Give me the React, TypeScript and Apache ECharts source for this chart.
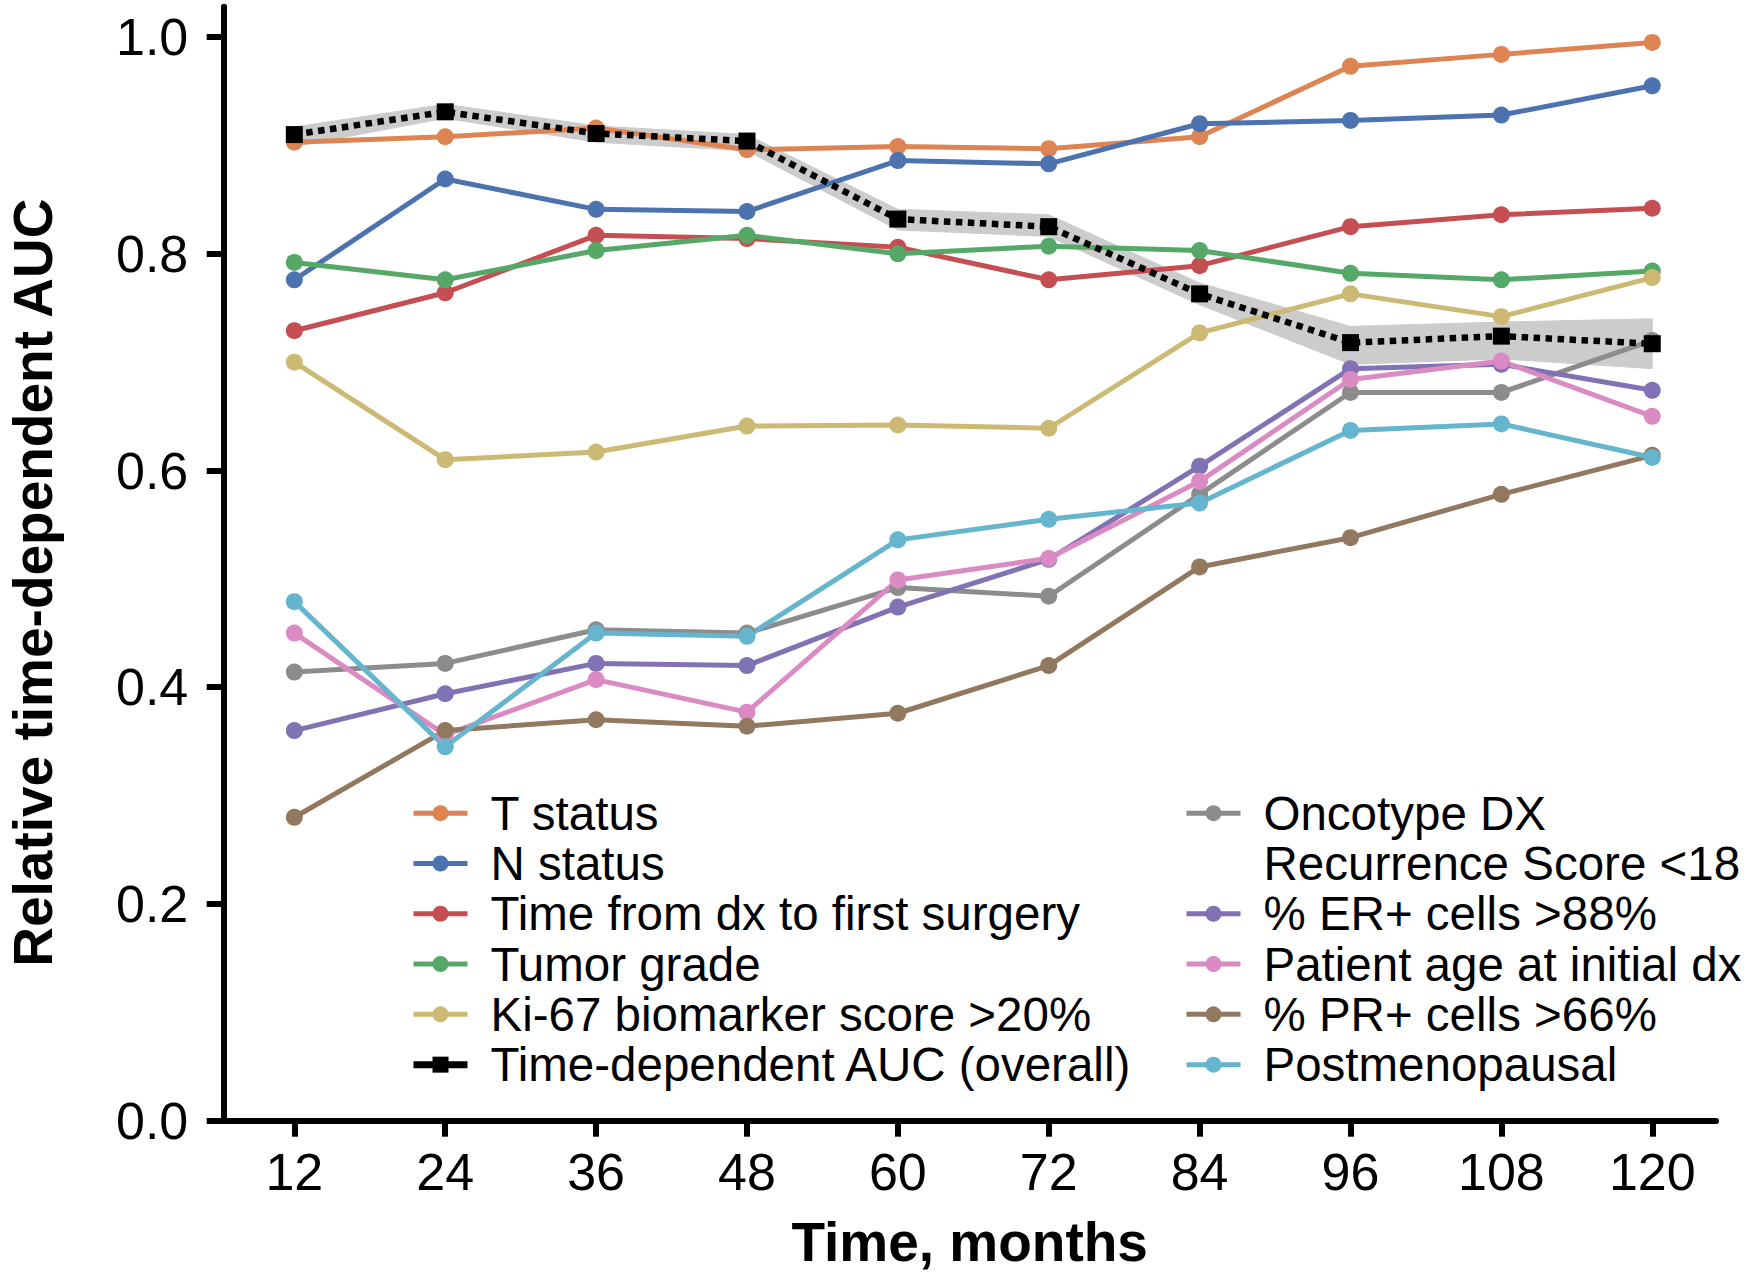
import React, { useEffect, useRef } from "react";
import * as echarts from "echarts";

const months = [12, 24, 36, 48, 60, 72, 84, 96, 108, 120];
const yTicks = [0, 0.2, 0.4, 0.6, 0.8, 1.0];

const tStatus = [0.903, 0.908, 0.916, 0.896, 0.899, 0.897, 0.908, 0.973, 0.984, 0.995];
const nStatus = [0.776, 0.869, 0.841, 0.839, 0.886, 0.883, 0.92, 0.923, 0.928, 0.955];
const timeDx = [0.729, 0.764, 0.817, 0.814, 0.806, 0.776, 0.789, 0.825, 0.836, 0.842];
const tumorGrade = [0.792, 0.776, 0.803, 0.817, 0.8, 0.807, 0.803, 0.782, 0.776, 0.784];
const ki67 = [0.7, 0.61, 0.617, 0.641, 0.642, 0.639, 0.727, 0.763, 0.742, 0.778];
const overall = [0.91, 0.931, 0.911, 0.904, 0.832, 0.825, 0.763, 0.718, 0.724, 0.717];
const overallLower = [0.899, 0.925, 0.903, 0.895, 0.822, 0.816, 0.753, 0.698, 0.703, 0.694];
const overallUpper = [0.917, 0.938, 0.918, 0.91, 0.841, 0.836, 0.773, 0.733, 0.737, 0.74];
const oncotype = [0.414, 0.422, 0.453, 0.45, 0.492, 0.484, 0.578, 0.672, 0.672, 0.72];
const erCells = [0.36, 0.394, 0.422, 0.42, 0.474, 0.518, 0.604, 0.694, 0.698, 0.674];
const patientAge = [0.45, 0.356, 0.407, 0.377, 0.499, 0.519, 0.59, 0.684, 0.701, 0.65];
const prCells = [0.28, 0.36, 0.37, 0.364, 0.376, 0.42, 0.511, 0.538, 0.578, 0.614];
const postmeno = [0.479, 0.345, 0.45, 0.447, 0.536, 0.555, 0.57, 0.637, 0.643, 0.612];

const ONCO = "Oncotype DX Recurrence Score <18";
const ONCO_LINE2 = "Recurrence Score <18";
const OVERALL = "Time-dependent AUC (overall)";

const leftSeries = [
  { name: "T status", data: tStatus, color: "#DD8452" },
  { name: "N status", data: nStatus, color: "#4C72B0" },
  { name: "Time from dx to first surgery", data: timeDx, color: "#C44E52" },
  { name: "Tumor grade", data: tumorGrade, color: "#55A868" },
  { name: "Ki-67 biomarker score >20%", data: ki67, color: "#CCB974" },
];
const rightSeries = [
  { name: ONCO, data: oncotype, color: "#8C8C8C" },
  { name: "% ER+ cells >88%", data: erCells, color: "#8172B3" },
  { name: "Patient age at initial dx", data: patientAge, color: "#DA8BC3" },
  { name: "% PR+ cells >66%", data: prCells, color: "#937860" },
  { name: "Postmenopausal", data: postmeno, color: "#64B5CD" },
];

const FONT = "'Liberation Sans', Arial, Helvetica, sans-serif";

function pairs(vals: number[]) {
  return months.map((m, i) => [m, vals[i]]);
}

export default function App() {
  const ref = useRef<HTMLDivElement>(null);
  useEffect(() => {
    if (!ref.current) return;
    const chart = echarts.init(ref.current, undefined, { renderer: "svg" });

    const lineSeries = (s: { name: string; data: number[]; color: string }) => ({
      name: s.name,
      type: "line",
      data: pairs(s.data),
      symbol: "circle",
      symbolSize: 17,
      color: s.color,
      itemStyle: { color: s.color },
      lineStyle: { color: s.color, width: 5 },
      z: 3,
    });

    const legendCommon = {
      orient: "vertical",
      top: 788,
      itemWidth: 54,
      itemHeight: 20,
      itemGap: 0,
      padding: 0,
      selectedMode: false,
      lineStyle: { width: 5 },
      textStyle: {
        fontSize: 47.5,
        lineHeight: 50.3,
        color: "#000",
        fontFamily: FONT,
        padding: [0, 0, 0, 18],
      },
    };

    const option: any = {
      animation: false,
      backgroundColor: "#fff",
      grid: {
        left: 223.3,
        right: 32,
        top: 6.7,
        bottom: 152.3,
        containLabel: false,
        outerBoundsMode: "none",
      },
      xAxis: {
        type: "value",
        min: 6.35,
        max: 125.07,
        name: "Time, months",
        nameLocation: "middle",
        nameGap: 94,
        nameTextStyle: { fontSize: 55, fontWeight: "bold", color: "#000", fontFamily: FONT },
        axisLine: { show: true, lineStyle: { color: "#000", width: 6 } },
        axisTick: { show: true, length: 16, lineStyle: { color: "#000", width: 6 }, customValues: months },
        axisLabel: { customValues: months, margin: 25, fontSize: 52, color: "#000", fontFamily: FONT },
        splitLine: { show: false },
      },
      yAxis: {
        type: "value",
        min: 0,
        max: 1.028,
        name: "Relative time-dependent AUC",
        nameLocation: "middle",
        nameRotate: 90,
        nameGap: 163,
        nameTextStyle: {
          fontSize: 55,
          fontWeight: "bold",
          color: "#000",
          fontFamily: FONT,
          padding: [0, 38, 0, 0],
        },
        axisLine: { show: true, lineStyle: { color: "#000", width: 6 } },
        axisTick: { show: true, length: 16.6, lineStyle: { color: "#000", width: 6 }, customValues: yTicks },
        axisLabel: {
          customValues: yTicks,
          margin: 35,
          fontSize: 52,
          color: "#000",
          fontFamily: FONT,
          formatter: (v: number) => v.toFixed(1),
        },
        splitLine: { show: false },
      },
      legend: [
        {
          ...legendCommon,
          left: 410,
          data: [
            ...leftSeries.map((s) => s.name),
            { name: OVERALL, lineStyle: { type: "solid", width: 7, color: "#000" } },
          ],
        },
        {
          ...legendCommon,
          left: 1184,
          formatter: (name: string) => (name === ONCO ? "Oncotype DX" : name),
          data: [
            ONCO,
            {
              name: ONCO_LINE2,
              itemStyle: { color: "rgba(0,0,0,0)", opacity: 0, borderWidth: 0 },
              lineStyle: { color: "rgba(0,0,0,0)", opacity: 0 },
            },
            ...rightSeries.slice(1).map((s) => s.name),
          ],
        },
      ],
      series: [
        {
          name: "overall-band",
          type: "custom",
          silent: true,
          z: 1,
          data: months.map((m, i) => [m, overallLower[i], overallUpper[i]]),
          encode: { x: 0, y: [1, 2] },
          renderItem: (params: any, api: any) => {
            if (params.dataIndex !== 0) return null;
            const upper = months.map((m, i) => api.coord([m, overallUpper[i]]));
            const lower = months.map((m, i) => api.coord([m, overallLower[i]])).reverse();
            return {
              type: "polygon",
              shape: { points: upper.concat(lower) },
              style: { fill: "#cccccc", stroke: "#cccccc", lineWidth: 1 },
            };
          },
        },
        ...leftSeries.map(lineSeries),
        ...rightSeries.map(lineSeries),
        {
          name: ONCO_LINE2,
          type: "line",
          data: [],
          symbol: "circle",
          color: "rgba(0,0,0,0)",
          itemStyle: { color: "rgba(0,0,0,0)", opacity: 0 },
          lineStyle: { color: "rgba(0,0,0,0)", opacity: 0 },
        },
        {
          name: OVERALL,
          type: "line",
          data: pairs(overall),
          symbol: "rect",
          symbolSize: 17,
          color: "#000",
          itemStyle: { color: "#000" },
          lineStyle: { color: "#000", width: 6.5, type: [6.5, 5.5] },
          z: 5,
        },
      ],
    };

    chart.setOption(option);
    return () => chart.dispose();
  }, []);

  return (
    <div
      ref={ref}
      style={{ position: "absolute", left: 0, top: 0, width: 1748, height: 1273, background: "#fff" }}
    />
  );
}
